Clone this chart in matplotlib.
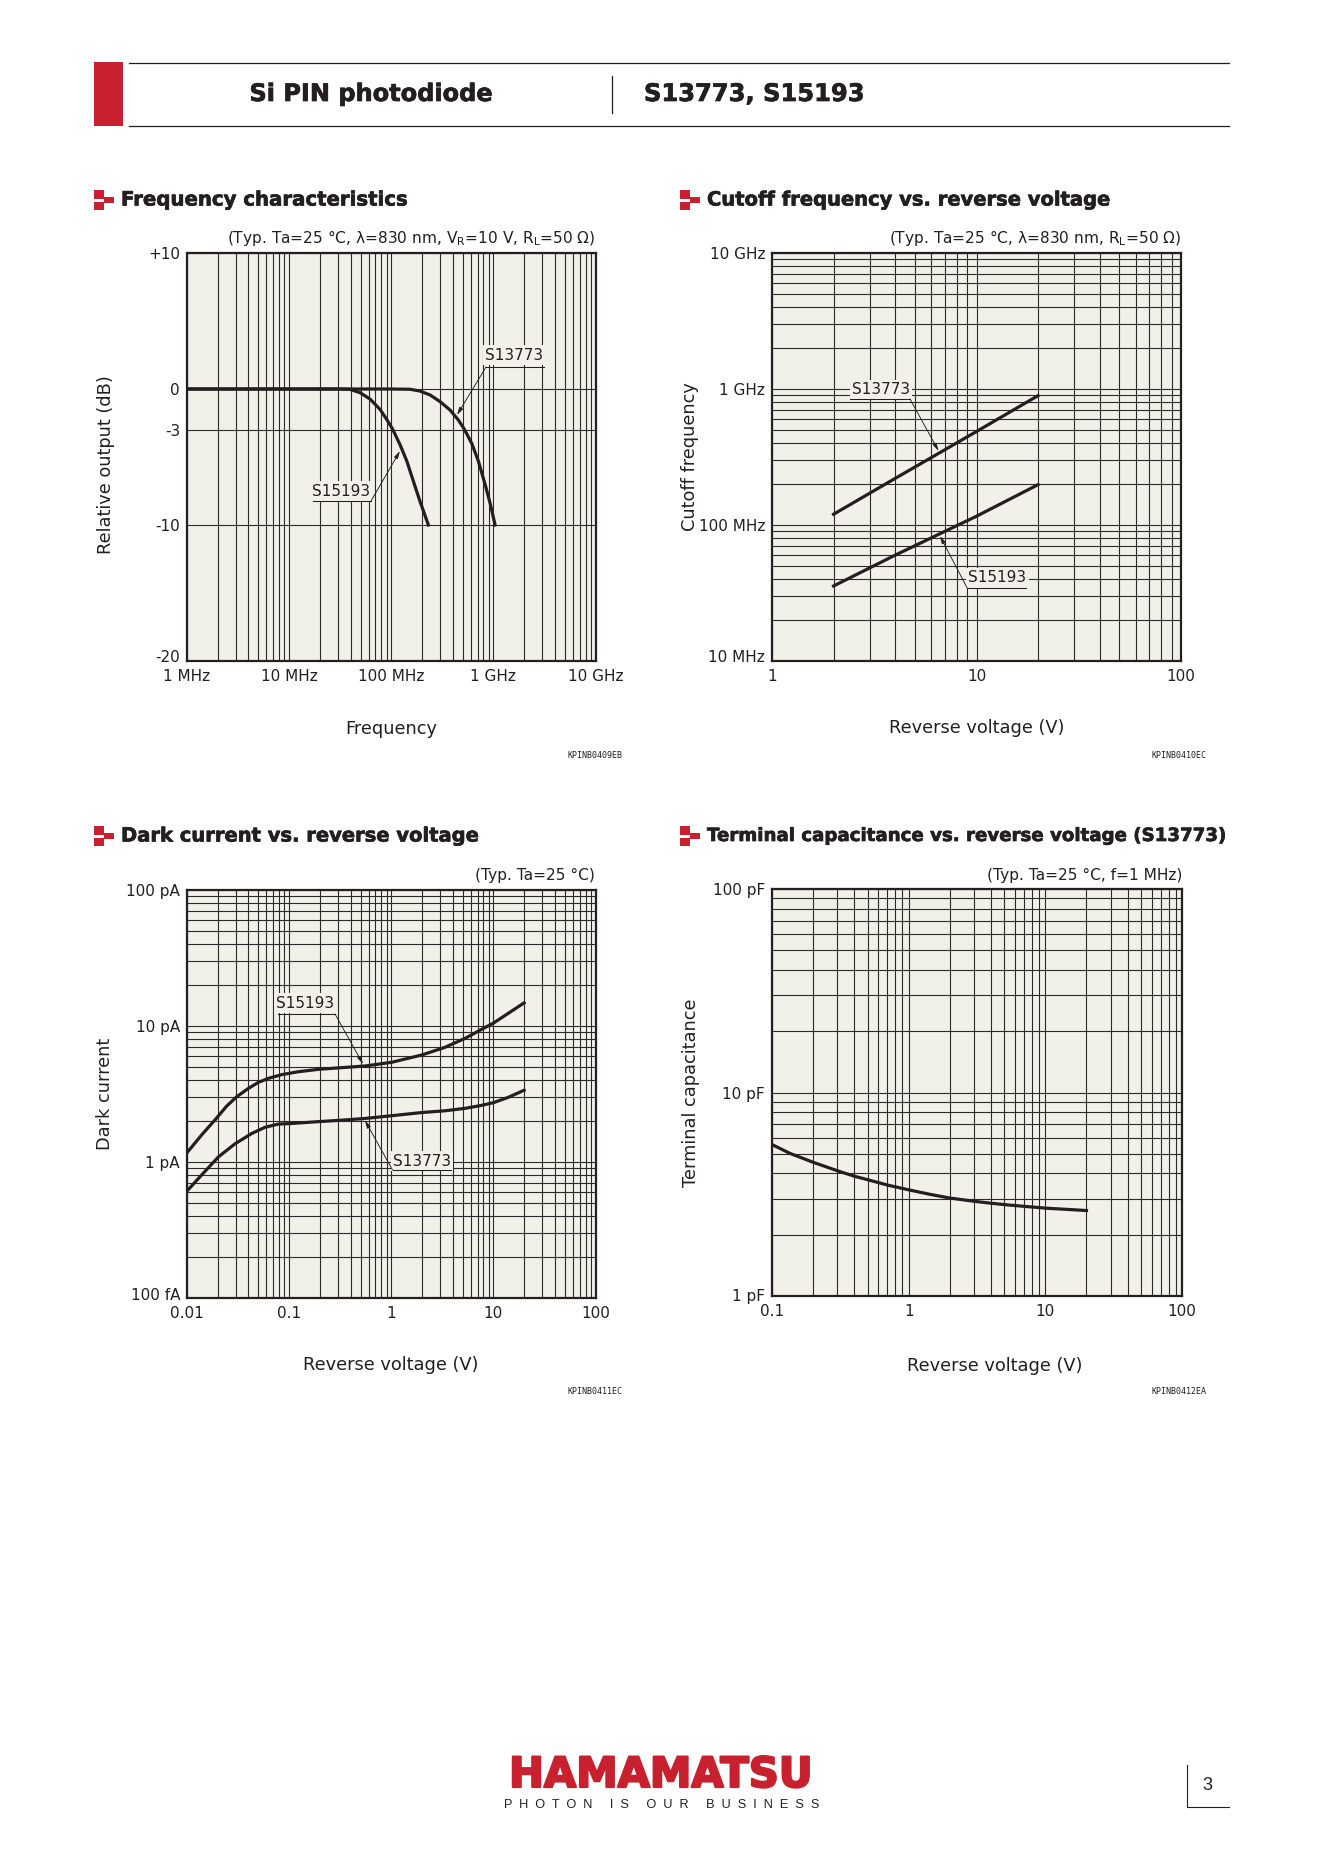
import matplotlib
matplotlib.use('Agg')
import matplotlib.pyplot as plt
import matplotlib.patheffects as pe
from matplotlib.patches import Rectangle
from matplotlib.ticker import LogLocator, NullFormatter
from matplotlib.transforms import ScaledTranslation

W, H = 1323, 1871
RED = '#c8202f'
INK = '#231f20'
PANEL = '#f1f0e9'

plt.rcParams['font.family'] = ['DejaVu Sans']
plt.rcParams['mathtext.default'] = 'regular'

# frequency characteristics
freq_s15193 = [1, 10, 30, 39.5, 49.5, 62, 77.7, 90.3, 102.6, 122, 142, 165, 191, 231]
db_s15193 = [0, 0, 0, -0.03, -0.27, -0.74, -1.5, -2.24, -2.92, -4.1, -5.3, -6.8, -8.25, -10]
freq_s13773 = [1, 10, 100, 153, 191, 240, 301, 377, 454, 516, 614, 713, 829, 929, 1040]
db_s13773 = [0, 0, 0, -0.02, -0.15, -0.44, -0.93, -1.55, -2.28, -2.92, -4.0, -5.3, -7.0, -8.4, -10]

# cutoff frequency
vr_cutoff = [2, 4, 10, 20]
fc_s13773 = [120, 220, 487, 894]
fc_s15193 = [35.6, 60, 116, 198]

# dark current
vr_s15193 = [0.01, 0.0139, 0.0188, 0.0245, 0.0307, 0.04, 0.05, 0.0626, 0.0846, 0.123, 0.193, 0.327, 0.554,
             1.01, 1.99, 3.36, 5.28, 7.69, 10, 14, 20]
id_s15193 = [1.17, 1.58, 2.04, 2.58, 3.02, 3.48, 3.85, 4.12, 4.39, 4.61, 4.8, 4.94, 5.08,
             5.41, 6.12, 6.97, 8.11, 9.46, 10.5, 12.4, 14.8]
vr_s13773 = [0.01, 0.0139, 0.0203, 0.0295, 0.043, 0.0581, 0.0784, 0.106, 0.193, 0.327, 0.554,
             1.01, 1.99, 3.36, 5.28, 7.69, 10, 14, 20]
id_s13773 = [0.612, 0.802, 1.09, 1.36, 1.62, 1.8, 1.9, 1.92, 1.98, 2.03, 2.09,
             2.19, 2.31, 2.38, 2.48, 2.61, 2.73, 2.99, 3.37]

# terminal capacitance
vr_ct = [0.1, 0.1355, 0.2, 0.306, 0.405, 0.507, 0.71, 1.01, 1.43, 2, 3.02, 3.94, 5.07, 6.9, 10.2, 15.1, 20]
ct = [5.55, 5.02, 4.54, 4.11, 3.87, 3.72, 3.5, 3.32, 3.16, 3.03, 2.92, 2.86, 2.81, 2.76, 2.7, 2.66, 2.63]


def make_panel(fig, l, t, r, b, xlim, ylim, xticks, xlabels, yticks, ylabels, xlabel, ylabel, xlab, ylab,
               ylog=True, lift=4):
    ax = fig.add_axes([l / W, 1 - b / H, (r - l) / W, (b - t) / H], facecolor=PANEL)
    ax.set_xscale('log')
    ax.set_xlim(xlim)
    if ylog:
        ax.set_yscale('log')
    ax.set_ylim(ylim)
    ax.set_xticks(xticks)
    ax.set_xticklabels(xlabels, fontsize=11, color=INK)
    ax.xaxis.set_minor_locator(LogLocator(base=10, subs=range(2, 10), numticks=20))
    ax.xaxis.set_minor_formatter(NullFormatter())
    ax.set_yticks(yticks)
    ax.set_yticklabels(ylabels, fontsize=11, color=INK)
    if ylog:
        ax.yaxis.set_minor_locator(LogLocator(base=10, subs=range(2, 10), numticks=20))
        ax.yaxis.set_minor_formatter(NullFormatter())
        ax.grid(True, axis='y', which='both', color='#2a2a2a', lw=0.8)
    else:
        ax.yaxis.set_minor_locator(plt.NullLocator())
        ax.grid(True, axis='y', which='major', color='#2a2a2a', lw=0.8)
    ax.grid(True, axis='x', which='both', color='#2a2a2a', lw=0.8)
    ax.tick_params(which='both', length=0, pad=5)
    ax.tick_params(axis='x', which='both', pad=6)
    ax.set_axisbelow(True)
    for s in ax.spines.values():
        s.set_linewidth(1.6)
        s.set_color(INK)
    ax.set_xlabel(xlabel, fontsize=12.8, color=INK)
    ax.set_ylabel(ylabel, fontsize=12.8, color=INK)
    ax.xaxis.set_label_coords((xlab[0] - l) / (r - l), (b - xlab[1]) / (b - t), transform=ax.transAxes)
    ax.yaxis.set_label_coords((ylab[0] - l) / (r - l), (b - ylab[1]) / (b - t), transform=ax.transAxes)
    ax.xaxis.label.set_verticalalignment('center')
    ax.yaxis.label.set_verticalalignment('center')
    # the lowest y label sits a little above its tick
    low = ax.get_yticklabels()[0]
    low.set_transform(low.get_transform() + ScaledTranslation(0, lift / 100, fig.dpi_scale_trans))
    ax._box = (l, t, r, b)
    return ax


def callout(ax, name, center, under, tip):
    # label with its underline and a thin leader, all placed in page pixels
    l, t, r, b = ax._box
    fx = lambda x: (x - l) / (r - l)
    fy = lambda y: (b - y) / (b - t)
    ax.text(fx(center[0]), fy(center[1]), name, transform=ax.transAxes, ha='center', va='center',
            fontsize=11, color=INK, zorder=5,
            bbox=dict(facecolor=PANEL, edgecolor='none', pad=1.5))
    ax.plot([fx(under[0]), fx(under[1])], [fy(under[2]), fy(under[2])], transform=ax.transAxes,
            color=INK, lw=0.75, zorder=6)
    start = under[1] if under[3] == 'r' else under[0]
    ax.annotate('', xy=(fx(tip[0]), fy(tip[1])), xytext=(fx(start), fy(under[2])),
                xycoords='axes fraction', textcoords='axes fraction', zorder=6,
                arrowprops=dict(arrowstyle='-|>,head_width=0.12,head_length=0.45', lw=0.65, color=INK,
                                shrinkA=0, shrinkB=0))


fig = plt.figure(figsize=(W / 100, H / 100), dpi=100, facecolor='white')
heavy = [pe.withStroke(linewidth=0.5, foreground=INK)]

# page furniture in pixel coordinates
page = fig.add_axes([0, 0, 1, 1])
page.set_xlim(0, W)
page.set_ylim(H, 0)
page.axis('off')
page.add_patch(Rectangle((94, 62), 29, 64, facecolor=RED, edgecolor='none'))
page.plot([129, 1229], [63, 63], color=INK, lw=0.9)
page.plot([129, 1229], [125.5, 125.5], color=INK, lw=0.9)
page.plot([612, 612], [76, 113], color=INK, lw=0.9)
page.text(371, 94, 'Si PIN photodiode', fontsize=17.3, fontweight='bold', color=INK, ha='center', va='center',
          path_effects=heavy)
page.text(644, 94, 'S13773, S15193', fontsize=17.4, fontweight='bold', color=INK, ha='left', va='center',
          path_effects=heavy)

sections = [('Frequency characteristics', 94, 200, 14.2), ('Cutoff frequency vs. reverse voltage', 680, 200, 14.05),
            ('Dark current vs. reverse voltage', 94, 836, 14.05),
            ('Terminal capacitance vs. reverse voltage (S13773)', 680, 836, 13.1)]
for title, x, y, size in sections:
    page.add_patch(Rectangle((x, y - 10), 10, 9, facecolor=RED, edgecolor='none'))
    page.add_patch(Rectangle((x + 10, y - 3), 10, 6, facecolor=RED, edgecolor='none'))
    page.add_patch(Rectangle((x, y + 2), 10, 8, facecolor=RED, edgecolor='none'))
    page.text(x + 27, y, title, fontsize=size, fontweight='bold', color=INK, ha='left', va='center',
              path_effects=heavy)

conds = [('(Typ. Ta=25 °C, λ=830 nm, V$_{R}$=10 V, R$_{L}$=50 Ω)', 595, 238),
         ('(Typ. Ta=25 °C, λ=830 nm, R$_{L}$=50 Ω)', 1181, 238),
         ('(Typ. Ta=25 °C)', 595, 875),
         ('(Typ. Ta=25 °C, f=1 MHz)', 1182, 875)]
for txt, x, y in conds:
    page.text(x, y, txt, fontsize=11.1, color=INK, ha='right', va='center')

codes = [('KPINB0409EB', 622, 756), ('KPINB0410EC', 1207, 756), ('KPINB0411EC', 622, 1391), ('KPINB0412EA', 1207, 1391)]
for txt, x, y in codes:
    page.text(x, y, txt, fontsize=6, family='DejaVu Sans Mono', color=INK, ha='right', va='center')

page.text(661, 1775, 'HAMAMATSU', fontsize=30, fontweight='heavy', color=RED, ha='center', va='center',
          path_effects=[pe.withStroke(linewidth=1.6, foreground=RED)])
page.text(662, 1805, 'P  H  O  T  O  N     I  S     O  U  R     B  U  S  I  N  E  S  S', fontsize=9.2,
          family='Liberation Sans', color=INK, ha='center', va='center')
page.plot([1187, 1187, 1229], [1765, 1807, 1807], color=INK, lw=0.8)
page.text(1207, 1786, '3', fontsize=13, family='Liberation Sans', color=INK, ha='center', va='center')

# Frequency characteristics
ax1 = make_panel(fig, 187, 253, 595.5, 661, (1, 1e4), (-20, 10), [1, 10, 100, 1000, 10000],
                 ['1 MHz', '10 MHz', '100 MHz', '1 GHz', '10 GHz'], [-20, -10, -3, 0, 10],
                 ['-20', '-10', '-3', '0', '+10'], 'Frequency', 'Relative output (dB)', (391, 729), (106, 465),
                 ylog=False, lift=5)
ax1.plot(freq_s15193, db_s15193, color=INK, lw=2.3, zorder=3)
ax1.plot(freq_s13773, db_s13773, color=INK, lw=2.3, zorder=3)
callout(ax1, 'S13773', (514, 355), (486, 544, 367, 'l'), (457, 415))
callout(ax1, 'S15193', (341, 491), (313, 371, 501, 'r'), (400, 451))

# Cutoff frequency
ax2 = make_panel(fig, 772, 253, 1181, 661, (1, 100), (10, 10000), [1, 10, 100], ['1', '10', '100'],
                 [10, 100, 1000, 10000], ['10 MHz', '100 MHz', '1 GHz', '10 GHz'], 'Reverse voltage (V)',
                 'Cutoff frequency', (977, 728), (690, 457), lift=5)
ax2.plot(vr_cutoff, fc_s13773, color=INK, lw=2.3, zorder=3)
ax2.plot(vr_cutoff, fc_s15193, color=INK, lw=2.3, zorder=3)
callout(ax2, 'S13773', (881, 390), (850, 910, 399, 'r'), (938.6, 451))
callout(ax2, 'S15193', (997.5, 578), (967, 1026, 587.6, 'l'), (940, 536))

# Dark current
ax3 = make_panel(fig, 187, 890, 595.5, 1298, (0.01, 100), (0.1, 100), [0.01, 0.1, 1, 10, 100],
                 ['0.01', '0.1', '1', '10', '100'], [0.1, 1, 10, 100], ['100 fA', '1 pA', '10 pA', '100 pA'],
                 'Reverse voltage (V)', 'Dark current', (391, 1365), (105, 1094), lift=4)
ax3.plot(vr_s15193, id_s15193, color=INK, lw=2.3, zorder=3)
ax3.plot(vr_s13773, id_s13773, color=INK, lw=2.3, zorder=3)
callout(ax3, 'S15193', (305, 1003), (277.5, 335, 1014, 'r'), (363, 1064))
callout(ax3, 'S13773', (422, 1161), (392.5, 451, 1170, 'l'), (365, 1120.5))

# Terminal capacitance
ax4 = make_panel(fig, 772, 889, 1182, 1296, (0.1, 100), (1, 100), [0.1, 1, 10, 100], ['0.1', '1', '10', '100'],
                 [1, 10, 100], ['1 pF', '10 pF', '100 pF'], 'Reverse voltage (V)', 'Terminal capacitance',
                 (995, 1366), (691, 1093), lift=1)
ax4.plot(vr_ct, ct, color=INK, lw=2.3, zorder=3)

fig.savefig('out.png', dpi=100, facecolor='white')
